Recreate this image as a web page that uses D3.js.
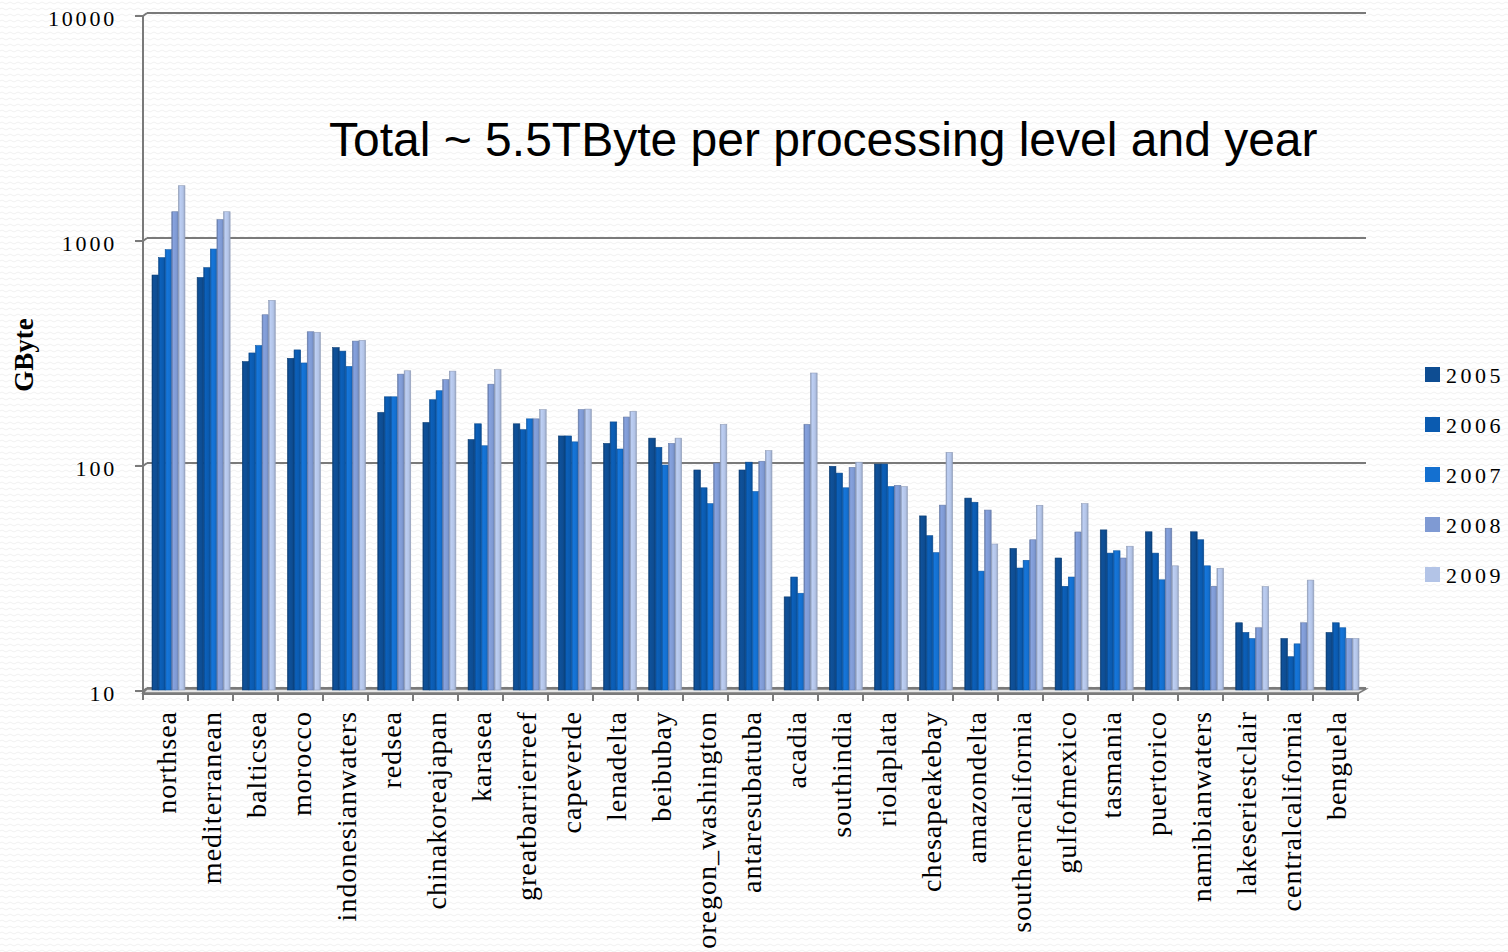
<!DOCTYPE html>
<meta charset="utf-8">
<script src="https://d3js.org/d3.v7.min.js"></script>
<style>
  body { margin: 0; background: #fff; }
  .serif { font-family: 'Liberation Serif', 'DejaVu Serif', serif; }
</style>
<div id="chart"></div>
<script>
// ---- data ----
const regions = ["northsea", "mediterranean", "balticsea", "morocco", "indonesianwaters", "redsea",
  "chinakoreajapan", "karasea", "greatbarrierreef", "capeverde", "lenadelta", "beibubay",
  "oregon_washington", "antaresubatuba", "acadia", "southindia", "riolaplata", "chesapeakebay",
  "amazondelta", "southerncalifornia", "gulfofmexico", "tasmania", "puertorico", "namibianwaters",
  "lakeseriestclair", "centralcalifornia", "benguela"];
const years = ["2005", "2006", "2007", "2008", "2009"];
const gb2005 = [706, 688, 291, 301, 336, 173, 156, 131, 154, 136, 126, 133, 96, 96, 26.2, 99.7, 102, 60, 72, 43, 39, 52, 51, 51, 20.1, 17.1, 18.2];
const gb2006 = [843, 761, 318, 328, 324, 203, 197, 154, 145, 136, 157, 121, 80, 104, 32.1, 93, 102, 49, 69, 35.2, 29.2, 41, 41, 47, 18.2, 14.2, 20.1];
const gb2007 = [915, 921, 343, 287, 277, 203, 216, 123, 162, 128, 119, 101, 68, 77, 27.2, 80, 81, 41.2, 34.1, 38.1, 32.1, 42, 31.2, 36, 17.1, 16.2, 19.1];
const gb2008 = [1349, 1244, 470, 395, 359, 256, 242, 231, 162, 178, 165, 126, 103, 105, 153, 98.6, 82, 67, 63.7, 47, 50.9, 39, 52.9, 29.2, 19.1, 20.1, 17.1];
const gb2009 = [1761, 1349, 545, 393, 362, 265, 264, 268, 178, 179, 175, 133, 153, 117, 259, 104, 81, 115, 45, 66.9, 68, 44, 36, 35.1, 29.1, 31.1, 17.1];
const series = [gb2005, gb2006, gb2007, gb2008, gb2009];
const yTicks = [10, 100, 1000, 10000];
const colors = ["#0E4D92", "#0B5BB0", "#1470D0", "#7F9AD3", "#B3C4E7"];

const W = 1508, H = 952;
const svg = d3.select("#chart").append("svg").attr("width", W).attr("height", H);
const defs = svg.append("defs");

// faint wavy background texture
const pat = defs.append("pattern").attr("id", "bgpat").attr("width", 8).attr("height", 6)
  .attr("patternUnits", "userSpaceOnUse");
pat.append("path").attr("d", "M0 3 Q2 1 4 3 T8 3").attr("fill", "none")
  .attr("stroke", "#f1f1f1").attr("stroke-width", 1);
svg.append("rect").attr("width", W).attr("height", H).attr("fill", "#fff");
svg.append("rect").attr("width", W).attr("height", H).attr("fill", "url(#bgpat)");

// cylinder-ish shading for each series
colors.forEach(function(c, i) {
  const g = defs.append("linearGradient").attr("id", "grad" + i)
    .attr("x1", "0%").attr("x2", "100%").attr("y1", "0%").attr("y2", "0%");
  const base = d3.color(c);
  g.append("stop").attr("offset", "0%").attr("stop-color", base.darker(0.7));
  g.append("stop").attr("offset", "25%").attr("stop-color", base.brighter(0.15));
  g.append("stop").attr("offset", "70%").attr("stop-color", base);
  g.append("stop").attr("offset", "100%").attr("stop-color", base.darker(0.5));
});

// scales
const y = d3.scaleLog().domain([10, 10000]).range([691, 16]);
const xCat = d3.scaleBand().domain(regions).range([143, 1358]);
const x0 = d3.scaleBand().domain(regions).range([152, 1359]).paddingInner(0.27);
const x1 = d3.scaleBand().domain(years).range([0, x0.bandwidth()]);

const axisCol = "#7a7a7a";
const dx = 4, dy = -3;   // back wall offset

// back wall gridlines
svg.append("g").selectAll("line").data(yTicks).join("line")
  .attr("x1", 143 + dx).attr("x2", 1366)
  .attr("y1", d => y(d) + dy).attr("y2", d => y(d) + dy)
  .attr("stroke", axisCol).attr("stroke-width", 2);

// left wall + tick marks
svg.append("line").attr("x1", 143).attr("x2", 143).attr("y1", y(10000)).attr("y2", 700)
  .attr("stroke", axisCol).attr("stroke-width", 2);
svg.append("g").selectAll("path").data(yTicks).join("path")
  .attr("d", d => "M135," + y(d) + "H143L" + (143 + dx) + "," + (y(d) + dy))
  .attr("fill", "none").attr("stroke", axisCol).attr("stroke-width", 2);

// y tick labels
svg.append("g").attr("class", "serif").selectAll("text").data(yTicks).join("text")
  .attr("x", 117).attr("y", d => y(d) + 10)
  .attr("text-anchor", "end").attr("font-size", 22).attr("letter-spacing", 2.8)
  .text(d => d);

// floor
svg.append("path")
  .attr("d", "M143,693H1359L1366,689H147Z")
  .attr("fill", "#e4e4e4").attr("stroke", axisCol).attr("stroke-width", 1.5);

// bars
svg.append("g").selectAll("g").data(regions).join("g")
  .attr("transform", d => "translate(" + x0(d) + ",0)")
  .selectAll("rect")
  .data((d, i) => years.map((yr, k) => ({ yr: yr, k: k, v: series[k][i] })))
  .join("rect")
    .attr("x", d => x1(d.yr))
    .attr("width", x1.bandwidth())
    .attr("y", d => y(d.v))
    .attr("height", d => 690 - y(d.v))
    .attr("fill", d => "url(#grad" + d.k + ")")
    .attr("stroke", d => d3.color(colors[d.k]).darker(0.6))
    .attr("stroke-width", 0.6);

// x axis line and ticks
svg.append("line").attr("x1", 143).attr("x2", 1359).attr("y1", 694).attr("y2", 694)
  .attr("stroke", axisCol).attr("stroke-width", 2);
svg.append("g").selectAll("line").data(regions).join("line")
  .attr("x1", d => xCat(d) + xCat.bandwidth()).attr("x2", d => xCat(d) + xCat.bandwidth())
  .attr("y1", 694).attr("y2", 701)
  .attr("stroke", axisCol).attr("stroke-width", 2);

// x labels
svg.append("g").attr("class", "serif").selectAll("text").data(regions).join("text")
  .attr("transform", d => "translate(" + (xCat(d) + xCat.bandwidth() / 2 + 10) + ",711) rotate(-90)")
  .attr("text-anchor", "end").attr("font-size", 28).attr("letter-spacing", 1)
  .text(d => d);

// y axis title
svg.append("text").attr("class", "serif")
  .attr("transform", "translate(33,355) rotate(-90)")
  .attr("text-anchor", "middle").attr("font-size", 27).attr("font-weight", "bold")
  .text("GByte");

// title
svg.append("text")
  .attr("x", 329).attr("y", 156)
  .attr("font-family", "'Liberation Sans', Arial, sans-serif").attr("font-size", 48)
  .text("Total ~ 5.5TByte per processing level and year");

// legend
const leg = svg.append("g").selectAll("g").data(years).join("g")
  .attr("transform", (d, i) => "translate(1425," + (367 + i * 50) + ")");
leg.append("rect").attr("width", 15).attr("height", 15).attr("fill", (d, i) => colors[i]);
leg.append("text").attr("class", "serif").attr("x", 21).attr("y", 16)
  .attr("font-size", 22).attr("letter-spacing", 3.5)
  .text(d => d);
</script>
